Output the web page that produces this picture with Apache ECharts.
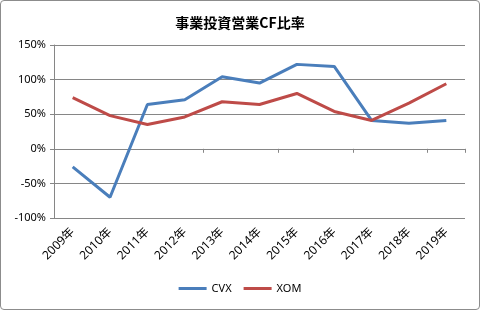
<!DOCTYPE html>
<html><head><meta charset="utf-8">
<script src="https://cdn.jsdelivr.net/npm/echarts@6/dist/echarts.min.js"></script>
<style>html,body{margin:0;padding:0;background:#fff}
#c{position:absolute;left:0;top:0;width:478px;height:308px;border:1px solid #8c8c8c;border-radius:4px}</style>
</head><body><div id="c"></div>
<script>
const categories = ['2009年','2010年','2011年','2012年','2013年','2014年','2015年','2016年','2017年','2018年','2019年'];
const cvx = [-26, -70, 64, 71, 104, 95, 122, 119, 41, 37, 41];
const xom = [74, 48, 35, 46, 68, 64, 80, 54, 41, 66, 94];
const yTicks = [-100, -50, 0, 50, 100, 150];
const title = '事業投資営業CF比率';

const chart = echarts.init(document.getElementById('c'));
const font = '"Noto Sans","Noto Sans CJK JP",sans-serif';
chart.setOption({
  animation: false,
  title: {text: title, left: 'center', top: 10,
    textStyle: {fontSize: 14, fontWeight: 'bold', color: '#000', fontFamily: '"Noto Sans CJK JP",sans-serif'}},
  legend: {bottom: 10, left: 'center', itemWidth: 28, itemHeight: 3, itemGap: 12,
    icon: 'rect',
    textStyle: {fontSize: 11, color: '#000', fontFamily: font},
    data: ['CVX','XOM']},
  grid: {left: 53, right: 14, top: 44, bottom: 91, containLabel: false},
  xAxis: [
    {type: 'category', data: categories, boundaryGap: true,
     axisLine: {onZero: true, lineStyle: {color: '#868686', width: 1}},
     axisTick: {show: true, length: 4, lineStyle: {color: '#868686'}},
     axisLabel: {show: false}, splitLine: {show: false}},
    {type: 'category', data: categories, boundaryGap: true, position: 'bottom',
     axisLine: {show: false, onZero: false}, axisTick: {show: false},
     axisLabel: {show: true, rotate: 45, fontSize: 12, color: '#000', margin: 12, fontFamily: font, interval: 0}}
  ],
  yAxis: {type: 'value', min: yTicks[0], max: yTicks[yTicks.length-1], interval: 50,
    axisLine: {show: true, lineStyle: {color: '#868686'}},
    axisTick: {show: true, length: 4, lineStyle: {color: '#868686'}},
    splitLine: {lineStyle: {color: '#868686', width: 1}},
    axisLabel: {formatter: v => v + '%', fontSize: 11, color: '#000', margin: 8, fontFamily: font}},
  series: [
    {name: 'CVX', type: 'line', data: cvx, xAxisIndex: 0, symbol: 'none',
     lineStyle: {width: 3, color: '#4a7ebb'}, itemStyle: {color: '#4a7ebb'}},
    {name: 'XOM', type: 'line', data: xom, xAxisIndex: 0, symbol: 'none',
     lineStyle: {width: 3, color: '#be4b48'}, itemStyle: {color: '#be4b48'}}
  ]
});
</script></body></html>
